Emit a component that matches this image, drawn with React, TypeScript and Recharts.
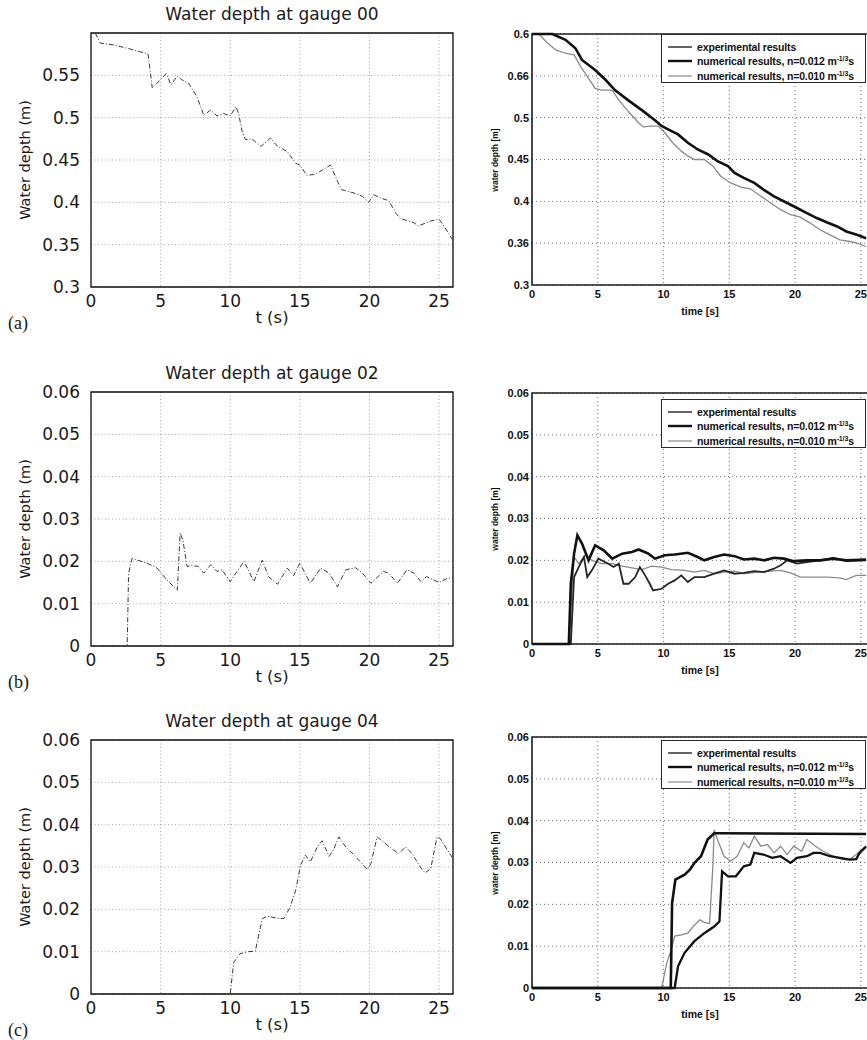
import React from 'react';
import { LineChart, Line, XAxis, YAxis, CartesianGrid, ReferenceArea } from 'recharts';

// ---- left column: simulated gauges ----
const g00Time = [0.3, 0.67, 1.6, 2.6, 3.5, 4.1, 4.4, 5.0, 5.4, 5.75, 6.2, 6.5, 7.0, 7.6, 8.1, 8.6, 9.05, 9.5, 10.0, 10.4, 10.6, 10.85, 11.1, 11.55, 12.2, 12.9, 13.4, 14.1, 14.7, 15.0, 15.5, 16.1, 16.7, 17.2, 17.7, 18.0, 18.9, 19.5, 19.95, 20.3, 20.8, 21.4, 21.9, 22.2, 23.2, 23.5, 24.4, 25.0, 25.35, 26];
const g00Depth = [0.6, 0.588, 0.586, 0.582, 0.578, 0.575, 0.535, 0.545, 0.552, 0.539, 0.549, 0.545, 0.541, 0.525, 0.503, 0.509, 0.502, 0.505, 0.502, 0.513, 0.505, 0.484, 0.474, 0.475, 0.466, 0.476, 0.466, 0.46, 0.446, 0.444, 0.432, 0.433, 0.439, 0.444, 0.425, 0.415, 0.411, 0.407, 0.4, 0.409, 0.405, 0.402, 0.387, 0.381, 0.376, 0.372, 0.378, 0.38, 0.372, 0.355];

const g02Time = [0, 2.6, 2.7, 2.95, 3.3, 4.0, 4.75, 5.45, 6.2, 6.4, 6.6, 6.9, 7.25, 7.7, 8.1, 8.6, 9.05, 9.4, 10.0, 10.4, 11.0, 11.7, 12.3, 12.75, 13.4, 14.1, 14.55, 15.0, 15.75, 16.5, 17.1, 17.7, 18.3, 19.0, 19.5, 20.1, 21.0, 21.4, 22.0, 22.7, 23.2, 23.7, 24.1, 25.0, 25.6, 26];
const g02Depth = [0, 0, 0.0172, 0.0207, 0.0203, 0.0196, 0.0184, 0.0156, 0.0132, 0.0267, 0.025, 0.0188, 0.019, 0.0188, 0.0172, 0.0192, 0.0176, 0.018, 0.0152, 0.0172, 0.02, 0.0152, 0.0203, 0.0164, 0.0146, 0.0184, 0.0166, 0.0196, 0.0148, 0.0184, 0.0172, 0.014, 0.018, 0.0185, 0.0172, 0.0148, 0.0176, 0.0172, 0.0148, 0.018, 0.0172, 0.0152, 0.0164, 0.015, 0.016, 0.016];

const g04Time = [0, 10.0, 10.25, 10.7, 11.3, 11.8, 12.3, 12.65, 13.35, 13.85, 14.3, 14.7, 15.05, 15.4, 15.75, 16.25, 16.6, 17.1, 17.4, 17.8, 18.3, 18.9, 19.35, 19.85, 20.1, 20.55, 21.0, 21.6, 22.1, 22.6, 23.05, 23.65, 24.0, 24.4, 24.85, 25.1, 25.6, 26];
const g04Depth = [0, 0, 0.0075, 0.0095, 0.01, 0.0101, 0.0178, 0.0184, 0.0179, 0.0178, 0.0205, 0.0245, 0.0304, 0.0328, 0.0312, 0.0347, 0.0362, 0.0325, 0.034, 0.0371, 0.0347, 0.0328, 0.0312, 0.0294, 0.0308, 0.0371, 0.0359, 0.0343, 0.0332, 0.0347, 0.0332, 0.03, 0.0286, 0.0296, 0.0371, 0.0367, 0.034, 0.032];

// ---- right column: published comparison ----
const pA012Time = [0, 1.55, 2.55, 3.3, 3.8, 4.8, 5.6, 6.3, 7.3, 8.35, 9.35, 9.85, 10.35, 11.1, 11.85, 12.6, 13.4, 14.1, 14.9, 15.4, 16.1, 16.9, 17.6, 18.4, 19.4, 20.15, 20.9, 21.65, 22.4, 23.2, 23.9, 24.7, 25.2, 25.4];
const pA012Depth = [0.6, 0.6, 0.593, 0.583, 0.569, 0.557, 0.545, 0.533, 0.521, 0.509, 0.497, 0.49, 0.486, 0.48, 0.47, 0.462, 0.456, 0.448, 0.442, 0.434, 0.428, 0.422, 0.414, 0.406, 0.398, 0.392, 0.386, 0.38, 0.375, 0.37, 0.364, 0.36, 0.357, 0.356];
const pA010Time = [0.55, 1.05, 1.8, 2.55, 3.2, 3.7, 4.3, 4.8, 5.3, 6.1, 6.6, 7.35, 8.1, 8.45, 9.1, 9.6, 10.1, 10.7, 11.35, 11.85, 12.35, 13.1, 13.75, 14.35, 15.1, 15.9, 16.6, 17.4, 18.15, 18.9, 19.65, 20.4, 21.15, 21.9, 22.65, 23.4, 24.15, 24.7, 25.4];
const pA010Depth = [0.6, 0.591, 0.581, 0.577, 0.575, 0.561, 0.547, 0.535, 0.533, 0.533, 0.521, 0.507, 0.494, 0.489, 0.49, 0.49, 0.482, 0.47, 0.46, 0.454, 0.45, 0.45, 0.442, 0.43, 0.422, 0.417, 0.415, 0.406, 0.398, 0.39, 0.384, 0.381, 0.374, 0.366, 0.36, 0.354, 0.352, 0.35, 0.346];

const pBExpTime = [0, 2.95, 3.2, 3.55, 3.95, 4.2, 4.55, 5.05, 5.8, 6.2, 6.6, 6.95, 7.35, 7.85, 8.2, 8.6, 8.95, 9.2, 9.85, 10.35, 10.85, 11.35, 11.85, 12.35, 13.1, 13.85, 14.6, 15.4, 16.1, 16.9, 17.65, 18.4, 18.9, 19.4, 20.15, 20.9, 21.9, 22.9, 23.9, 25.4];
const pBExpDepth = [0, 0, 0.016, 0.0184, 0.0208, 0.016, 0.0176, 0.0204, 0.0192, 0.0184, 0.0192, 0.0144, 0.0144, 0.016, 0.0184, 0.0164, 0.0144, 0.0128, 0.0132, 0.0144, 0.0152, 0.0164, 0.0148, 0.016, 0.016, 0.0168, 0.0176, 0.0168, 0.017, 0.0174, 0.0172, 0.018, 0.0188, 0.02, 0.0192, 0.0196, 0.02, 0.0206, 0.0198, 0.02];
const pB012Time = [0, 2.8, 2.95, 3.2, 3.45, 3.8, 4.3, 4.8, 5.45, 6.1, 6.85, 7.6, 8.1, 8.85, 9.35, 10.1, 10.85, 11.85, 12.6, 13.1, 13.85, 14.6, 15.4, 16.1, 16.9, 17.65, 18.4, 19.15, 19.9, 20.9, 21.9, 22.9, 23.9, 25.4];
const pB012Depth = [0, 0, 0.0144, 0.0216, 0.026, 0.024, 0.02, 0.0236, 0.0224, 0.0204, 0.0216, 0.022, 0.0226, 0.0216, 0.0204, 0.0212, 0.0214, 0.0218, 0.0208, 0.02, 0.0208, 0.0214, 0.021, 0.0202, 0.0204, 0.02, 0.0206, 0.0204, 0.0198, 0.02, 0.02, 0.0204, 0.02, 0.0202];
const pB010Time = [0, 2.8, 3.2, 3.55, 4.05, 4.55, 5.3, 6.1, 6.85, 7.6, 8.35, 9.1, 9.85, 10.6, 11.6, 12.35, 13.1, 13.85, 14.6, 15.4, 16.1, 17.1, 18.15, 18.9, 19.65, 20.4, 21.4, 22.4, 23.4, 23.9, 24.65, 25.4];
const pB010Depth = [0, 0, 0.0208, 0.0192, 0.0212, 0.02, 0.0192, 0.0192, 0.0186, 0.0182, 0.0178, 0.0186, 0.0184, 0.0178, 0.0176, 0.0172, 0.0176, 0.0168, 0.0172, 0.0174, 0.0168, 0.0172, 0.0174, 0.0176, 0.017, 0.016, 0.016, 0.016, 0.0158, 0.0154, 0.0164, 0.0164];

const pCExpTime = [0, 10.55, 10.65, 10.9, 11.6, 12.0, 12.35, 12.85, 13.35, 13.85, 14.35, 25.4];
const pCExpDepth = [0, 0, 0.0203, 0.0259, 0.0271, 0.0283, 0.0299, 0.0315, 0.0355, 0.037, 0.037, 0.0368];
const pC012Time = [0, 10.85, 11.1, 11.6, 12.35, 13.1, 13.85, 14.25, 14.45, 14.9, 15.5, 16.1, 16.6, 16.9, 17.6, 18.25, 18.9, 19.65, 20.15, 20.9, 21.4, 21.9, 22.65, 23.4, 24.15, 24.65, 24.9, 25.4];
const pC012Depth = [0, 0, 0.0052, 0.0084, 0.0112, 0.0131, 0.0147, 0.0159, 0.0279, 0.0267, 0.0267, 0.0291, 0.0295, 0.0323, 0.0319, 0.0311, 0.0315, 0.0299, 0.0311, 0.0315, 0.0323, 0.0323, 0.0315, 0.0311, 0.0307, 0.0308, 0.0323, 0.0338];
const pC010Time = [0, 9.85, 10.25, 10.55, 10.85, 11.35, 11.85, 12.25, 12.75, 13.1, 13.5, 13.75, 13.85, 14.1, 14.6, 15.1, 15.6, 16.1, 16.5, 16.9, 17.4, 17.9, 18.4, 18.9, 19.4, 19.9, 20.5, 20.9, 21.55, 22.15, 22.9, 23.65, 24.15, 24.65, 25.4];
const pC010Depth = [0, 0, 0.006, 0.0088, 0.0124, 0.0127, 0.0131, 0.0147, 0.0163, 0.0157, 0.0154, 0.0291, 0.0378, 0.0355, 0.0315, 0.0303, 0.0315, 0.0347, 0.0335, 0.0363, 0.0339, 0.0343, 0.0323, 0.0339, 0.0319, 0.0339, 0.0327, 0.0355, 0.0339, 0.0327, 0.0315, 0.0307, 0.0307, 0.0319, 0.034];

// ticks
const timeTicks = [0, 5, 10, 15, 20, 25];
const bigDepthTicks = [0.3, 0.35, 0.4, 0.45, 0.5, 0.55];
const smallDepthTicks = [0, 0.01, 0.02, 0.03, 0.04, 0.05, 0.06];
const scanBigTicks = [0.3, 0.35, 0.4, 0.45, 0.5, 0.55, 0.6];
const scanBigLabels = ['0.3', '0.36', '0.4', '0.45', '0.5', '0.66', '0.6'];

const LEFT_FONT = '"DejaVu Sans", sans-serif';
const RIGHT_FONT = '"Liberation Sans", Arial, sans-serif';

type Pt = { t: number; v: number };
const zip = (ts: number[], vs: number[]): Pt[] => ts.map((t, i) => ({ t, v: vs[i] }));

const abs = (s: React.CSSProperties): React.CSSProperties => ({ position: 'absolute', whiteSpace: 'nowrap', lineHeight: 1, ...s });

interface GaugeProps {
  plotTop: number;
  title: string;
  letter: string;
  domain: [number, number];
  ticks: number[];
  data: Pt[];
}

// plot box: x 91..453, height 254
const GaugePanel: React.FC<GaugeProps> = ({ plotTop, title, letter, domain, ticks, data }) => {
  const plotH = 254;
  const bottom = plotTop + plotH;
  const tickStyle = { fill: '#1a1a1a', fontSize: 17, fontFamily: LEFT_FONT };
  return (
    <>
      <div style={abs({ left: 0, top: plotTop - 40 })}>
        <LineChart width={470} height={plotH + 80} data={data} margin={{ top: 40, right: 17, bottom: 10, left: 0 }}>
          <CartesianGrid stroke="#a5a5a5" strokeDasharray="1 2.5" />
          <XAxis dataKey="t" type="number" domain={[0, 26]} ticks={timeTicks} axisLine={false} tickLine={false}
            tickSize={0} tickMargin={8} height={30} tick={tickStyle} />
          <YAxis type="number" domain={domain} ticks={ticks} axisLine={false} tickLine={false}
            tickSize={0} tickMargin={11} width={91} tick={tickStyle} />
          <ReferenceArea x1={0} x2={26} y1={domain[0]} y2={domain[1]} fill="none" fillOpacity={0}
            stroke="#111" strokeWidth={1.3} ifOverflow="visible" />
          <Line dataKey="v" type="linear" stroke="#3a3a3a" strokeWidth={1} strokeDasharray="5 2 1 2"
            dot={false} isAnimationActive={false} />
        </LineChart>
      </div>
      <div style={abs({ left: 272, top: plotTop - 19, transform: 'translate(-50%,-50%)', fontSize: 17, fontFamily: LEFT_FONT, color: '#1a1a1a' })}>
        {title}
      </div>
      <div style={abs({ left: 25, top: plotTop + plotH / 2, transform: 'translate(-50%,-50%) rotate(-90deg)', fontSize: 14.5, fontFamily: LEFT_FONT, color: '#1a1a1a' })}>
        Water depth (m)
      </div>
      <div style={abs({ left: 272, top: bottom + 31, transform: 'translate(-50%,-50%)', fontSize: 16.5, fontFamily: LEFT_FONT, color: '#1a1a1a' })}>
        t (s)
      </div>
      <div style={abs({ left: 8, top: bottom + 36, transform: 'translateY(-50%)', fontSize: 18, fontFamily: '"Liberation Serif", serif', color: '#1a1a1a' })}>
        {letter}
      </div>
    </>
  );
};

interface Series { data: Pt[]; color: string; width: number }

interface ScanProps {
  plotTop: number;
  domain: [number, number];
  ticks: number[];
  labels?: string[];
  series: Series[];
  legendTop: number;
  legendRows: React.ReactNode[];
}

const legendSamples = [
  { color: '#222', width: 1.4 },
  { color: '#111', width: 2.4 },
  { color: '#8a8a8a', width: 1.2 },
];

const sup = (s: string) => (
  <span style={{ fontSize: 7, position: 'relative', top: -4 }}>{s}</span>
);

// plot box: x 532..874 (clipped at page edge), height 251
const ScanPanel: React.FC<ScanProps> = ({ plotTop, domain, ticks, labels, series, legendTop, legendRows }) => {
  const plotH = 251;
  const bottom = plotTop + plotH;
  const tickStyle = { fill: '#111', fontSize: 11, fontWeight: 700, fontFamily: RIGHT_FONT };
  const fmt = (v: number) => {
    if (!labels) return String(v);
    const i = ticks.indexOf(v);
    return i >= 0 ? labels[i] : String(v);
  };
  return (
    <>
      <div style={abs({ left: 490, top: plotTop - 20 })}>
        <LineChart width={388} height={plotH + 50} margin={{ top: 20, right: 4, bottom: 10, left: 0 }}>
          <CartesianGrid stroke="#6f6f6f" strokeDasharray="1 3" />
          <XAxis dataKey="t" type="number" domain={[0, 26]} ticks={timeTicks} axisLine={false} tickLine={false}
            tickSize={0} tickMargin={5} height={20} tick={tickStyle} allowDuplicatedCategory={false} />
          <YAxis type="number" domain={domain} ticks={ticks} axisLine={false} tickLine={false}
            tickSize={0} tickMargin={3} width={42} tick={tickStyle} tickFormatter={fmt} />
          <ReferenceArea x1={0} x2={26} y1={domain[0]} y2={domain[1]} fill="none" fillOpacity={0}
            stroke="#1e1e1e" strokeWidth={1.6} ifOverflow="visible" />
          {series.map((s, i) => (
            <Line key={i} data={s.data} dataKey="v" type="linear" stroke={s.color} strokeWidth={s.width}
              dot={false} isAnimationActive={false} />
          ))}
        </LineChart>
      </div>
      <div style={abs({ left: 495, top: plotTop + plotH / 2, transform: 'translate(-50%,-50%) rotate(-90deg)', fontSize: 8.5, fontWeight: 700, fontFamily: RIGHT_FONT, color: '#111' })}>
        water depth [m]
      </div>
      <div style={abs({ left: 700, top: bottom + 26, transform: 'translate(-50%,-50%)', fontSize: 10.5, fontWeight: 700, fontFamily: RIGHT_FONT, color: '#111' })}>
        time [s]
      </div>
      <div style={abs({ left: 661, top: legendTop, width: 205, height: 49, border: '1.3px solid #2a2a2a', background: '#fff', boxSizing: 'border-box' })}>
        {legendRows.map((row, i) => (
          <div key={i} style={abs({ left: 0, top: 5.5 + i * 14.5, width: 203, height: 12 })}>
            <svg width={24} height={6} style={{ position: 'absolute', left: 6, top: 3 }}>
              <line x1={0} y1={3} x2={24} y2={3} stroke={legendSamples[i].color} strokeWidth={legendSamples[i].width} />
            </svg>
            <span style={{ position: 'absolute', left: 35, top: 0, lineHeight: '12px', fontSize: 10.5, fontWeight: 700, fontFamily: RIGHT_FONT, color: '#111', letterSpacing: -0.15 }}>
              {row}
            </span>
          </div>
        ))}
      </div>
    </>
  );
};

const legendText: React.ReactNode[] = [
  'experimental results',
  <>numerical results, n=0.012 m{sup('-1/3')}s</>,
  <>numerical results, n=0.010 m{sup('-1/3')}s</>,
];

const THICK = '#111';
const THIN = '#262626';
const GRAY = '#8a8a8a';

export default function App() {
  return (
    <div style={{ position: 'absolute', left: 0, top: 0, width: 867, height: 1040, overflow: 'hidden', background: '#fff' }}>
      <GaugePanel plotTop={33} title="Water depth at gauge 00" letter="(a)" domain={[0.3, 0.6]} ticks={bigDepthTicks} data={zip(g00Time, g00Depth)} />
      <GaugePanel plotTop={392} title="Water depth at gauge 02" letter="(b)" domain={[0, 0.06]} ticks={smallDepthTicks} data={zip(g02Time, g02Depth)} />
      <GaugePanel plotTop={740} title="Water depth at gauge 04" letter="(c)" domain={[0, 0.06]} ticks={smallDepthTicks} data={zip(g04Time, g04Depth)} />

      <ScanPanel plotTop={34} domain={[0.3, 0.6]} ticks={scanBigTicks} labels={scanBigLabels} legendTop={34} legendRows={legendText}
        series={[
          { data: zip(pA010Time, pA010Depth), color: GRAY, width: 1.3 },
          { data: zip(pA012Time, pA012Depth), color: THICK, width: 2.6 },
        ]} />
      <ScanPanel plotTop={393} domain={[0, 0.06]} ticks={smallDepthTicks} legendTop={399} legendRows={legendText}
        series={[
          { data: zip(pB010Time, pB010Depth), color: GRAY, width: 1.3 },
          { data: zip(pBExpTime, pBExpDepth), color: THIN, width: 1.8 },
          { data: zip(pB012Time, pB012Depth), color: THICK, width: 2.6 },
        ]} />
      <ScanPanel plotTop={737} domain={[0, 0.06]} ticks={smallDepthTicks} legendTop={740} legendRows={legendText}
        series={[
          { data: zip(pC010Time, pC010Depth), color: GRAY, width: 1.3 },
          { data: zip(pC012Time, pC012Depth), color: THICK, width: 2.3 },
          { data: zip(pCExpTime, pCExpDepth), color: THICK, width: 2.6 },
        ]} />
    </div>
  );
}
